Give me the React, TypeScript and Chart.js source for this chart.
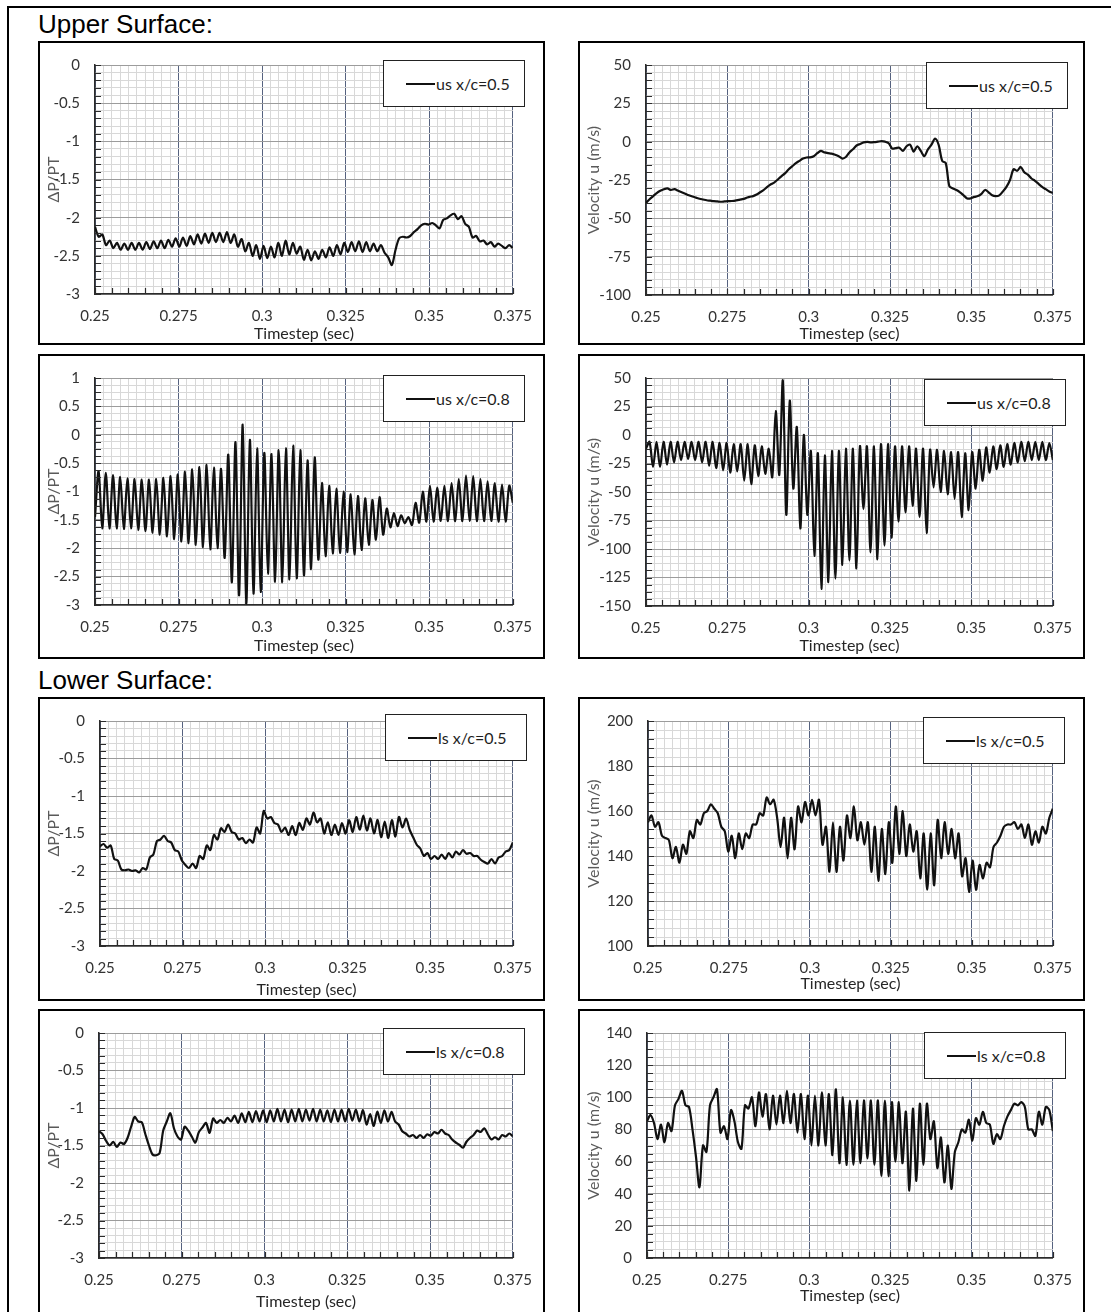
import React, { useEffect, useRef } from "react";
import { Chart, registerables } from "chart.js";

Chart.register(...registerables);

// ---- time axis ----
const T_START = 0.25;
const T_END = 0.375;
const X_MAJOR = 0.025;
const X_MINOR = 0.0025;
const X_TICK_MARK = 0.005;
const X_TITLE = "Timestep (sec)";
const Y_TITLE_P = "ΔP/PT";
const Y_TITLE_U = "Velocity u (m/s)";
const SECTION_TITLES = ["Upper Surface:", "Lower Surface:"];
const LEGENDS = ["us x/c=0.5", "us x/c=0.5", "us x/c=0.8", "us x/c=0.8", "ls x/c=0.5", "ls x/c=0.5", "ls x/c=0.8", "ls x/c=0.8"];

// ---- series values (uniformly sampled between T_START and T_END) ----
const usP05 = [
  -2.12, -2.25, -2.22, -2.36, -2.3, -2.4, -2.33, -2.42, -2.34, -2.42,
  -2.33, -2.42, -2.33, -2.42, -2.32, -2.41, -2.31, -2.4, -2.3, -2.4,
  -2.29, -2.38, -2.27, -2.38, -2.26, -2.37, -2.24, -2.35, -2.22, -2.34,
  -2.21, -2.33, -2.2, -2.32, -2.2, -2.32, -2.19, -2.33, -2.22, -2.38,
  -2.28, -2.44, -2.33, -2.5, -2.36, -2.54, -2.37, -2.53, -2.38, -2.52,
  -2.33, -2.5, -2.3, -2.48, -2.33, -2.47, -2.38, -2.55, -2.42, -2.56,
  -2.44, -2.54, -2.42, -2.52, -2.39, -2.5, -2.36, -2.48, -2.33, -2.45,
  -2.32, -2.44, -2.31, -2.45, -2.32, -2.44, -2.34, -2.44, -2.36, -2.46,
  -2.52, -2.62, -2.42, -2.27, -2.25, -2.26, -2.24, -2.19, -2.15, -2.1,
  -2.08, -2.09, -2.07, -2.1, -2.14, -2.03, -2.01, -1.97, -1.95, -2.02,
  -1.98, -2.08, -2.12, -2.26, -2.24, -2.31, -2.3, -2.35, -2.32, -2.38,
  -2.34, -2.37, -2.4, -2.36, -2.4,
];

const usU05 = [
  -40, -37.5, -35.5, -33.5, -32, -31, -30.5, -31.5, -31, -32,
  -33, -34, -35, -35.8, -36.5, -37.2, -37.7, -38.2, -38.5, -38.8,
  -39, -39.2, -39, -38.8, -38.7, -38.5, -38, -37.5, -36.8, -36,
  -35.5, -34.5, -33, -31.5, -29.5, -27.8, -26.5, -24.5, -22.5, -20.5,
  -18, -16, -14, -12.5, -11, -10.3, -10.2, -9.5, -7.5, -6,
  -7, -7.5, -7.8, -8.5, -9.5, -11, -10, -7, -5, -2.5,
  -1.5, -0.5, -0.2, -0.5, -0.3, 0, 0.3, 0, -1, -4.5,
  -4.2, -4, -6, -3, -2, -6.5, -3, -6, -9.5, -5,
  -2, 2, -2, -12.5, -14, -29, -30.5, -31.5, -33, -35,
  -37, -37, -36, -35.5, -34, -31.5, -33, -35, -35.5, -35,
  -32.5, -29.5, -25, -18, -19, -16.5, -20, -21.5, -24, -25.5,
  -27.5, -29.5, -31, -32.5, -33.5,
];

const usP08 = [
  -1.45, -0.64, -1.65, -0.67, -1.65, -0.71, -1.65, -0.74, -1.66, -0.77,
  -1.65, -0.78, -1.68, -0.79, -1.7, -0.79, -1.73, -0.78, -1.76, -0.76,
  -1.79, -0.73, -1.84, -0.7, -1.88, -0.65, -1.91, -0.61, -1.94, -0.57,
  -1.98, -0.53, -2.02, -0.58, -2.0, -0.6, -2.17, -0.35, -2.6, -0.13,
  -2.83, 0.18, -2.97, -0.09, -2.8, -0.24, -2.77, -0.32, -2.45, -0.34,
  -2.59, -0.27, -2.6, -0.24, -2.55, -0.19, -2.53, -0.27, -2.48, -0.45,
  -2.37, -0.4, -2.2, -0.85, -2.14, -0.9, -2.09, -0.95, -2.08, -1.0,
  -2.07, -1.05, -2.11, -1.08, -2.03, -1.12, -1.94, -1.15, -1.85, -1.1,
  -1.76, -1.3, -1.63, -1.38, -1.61, -1.42, -1.56, -1.45, -1.59, -1.2,
  -1.55, -1.0, -1.53, -0.9, -1.53, -0.93, -1.52, -0.9, -1.52, -0.85,
  -1.52, -0.78, -1.52, -0.72, -1.52, -0.73, -1.52, -0.78, -1.52, -0.82,
  -1.52, -0.85, -1.53, -0.88, -1.53, -0.9, -1.2,
];

const usU08 = [
  -12, -6, -28, -6, -28, -6, -26, -6, -24, -6,
  -22, -6, -21, -6, -22, -6, -24, -6, -27, -6,
  -29, -7, -31, -7, -33, -8, -32, -8, -40, -8,
  -43, -9, -36, -10, -34, -12, -37, 21, -35, 48,
  -70, 30, -47, 7, -82, 0, -70, -14, -106, -16,
  -135, -18, -129, -14, -126, -14, -114, -12, -110, -12,
  -117, -10, -65, -10, -103, -10, -109, -8, -97, -8,
  -90, -10, -76, -10, -68, -10, -62, -12, -72, -12,
  -86, -13, -46, -13, -50, -14, -52, -15, -56, -15,
  -72, -16, -66, -15, -47, -13, -40, -11, -33, -10,
  -30, -9, -28, -8, -26, -7, -24, -6, -23, -6,
  -22, -6, -22, -6, -22, -7, -22,
];

const lsP05 = [
  -1.67, -1.64, -1.69, -1.66, -1.84, -1.86, -1.98, -1.99, -1.98, -2.0,
  -1.99, -2.02, -1.96, -1.98, -1.82, -1.78, -1.6, -1.58, -1.53, -1.6,
  -1.62, -1.72, -1.74, -1.86, -1.92, -1.96, -1.9, -1.96, -1.8, -1.84,
  -1.66, -1.72, -1.52, -1.58, -1.43, -1.48, -1.38, -1.48, -1.5, -1.58,
  -1.56, -1.63, -1.58, -1.62, -1.42, -1.5, -1.2, -1.3, -1.28, -1.36,
  -1.38, -1.48, -1.42, -1.52, -1.4, -1.52, -1.36, -1.45, -1.3, -1.38,
  -1.22, -1.35, -1.3, -1.5, -1.35, -1.52, -1.38, -1.52, -1.36, -1.5,
  -1.32, -1.48, -1.28, -1.45, -1.26, -1.46, -1.3, -1.5, -1.32, -1.55,
  -1.34, -1.56, -1.32, -1.54, -1.28, -1.42, -1.3, -1.45, -1.55, -1.65,
  -1.7, -1.8, -1.76, -1.84, -1.8, -1.84, -1.78, -1.84, -1.76, -1.82,
  -1.74, -1.78, -1.72, -1.77, -1.76, -1.8, -1.8, -1.85, -1.88, -1.9,
  -1.84, -1.9, -1.82, -1.8, -1.74, -1.72, -1.62,
];

const lsU05 = [
  155, 158, 153, 155, 149, 148, 147, 139, 144, 137,
  145, 141, 151, 148, 156, 154, 159, 160, 163, 161,
  159, 153, 151, 142, 149, 139, 150, 143, 150, 148,
  154, 154, 159, 158, 166, 163, 165, 157, 144, 157,
  139, 157, 143, 162, 155, 164, 158, 165, 158, 165,
  145, 153, 133, 155, 133, 153, 138, 158, 148, 162,
  147, 155, 145, 155, 133, 153, 129, 152, 132, 155,
  137, 162, 141, 160, 140, 154, 142, 151, 130, 150,
  125, 150, 127, 156, 139, 155, 141, 152, 139, 150,
  131, 139, 124, 138, 125, 136, 130, 137, 135, 144,
  146, 149, 153, 154, 154, 155, 152, 154, 148, 154,
  145, 151, 146, 153, 150, 157, 161,
];

const lsP08 = [
  -1.31, -1.35, -1.44, -1.5, -1.45, -1.52, -1.46, -1.48, -1.4, -1.25,
  -1.12, -1.18, -1.19, -1.35, -1.5, -1.62, -1.63, -1.6, -1.3, -1.18,
  -1.07, -1.27, -1.38, -1.42, -1.25, -1.3, -1.38, -1.46, -1.32, -1.26,
  -1.2, -1.33, -1.14, -1.2, -1.16, -1.2, -1.13, -1.18, -1.1, -1.2,
  -1.07, -1.19, -1.05, -1.19, -1.04, -1.18, -1.03, -1.19, -1.03, -1.18,
  -1.01, -1.18, -1.02, -1.19, -1.02, -1.18, -1.01, -1.18, -1.02, -1.17,
  -1.01, -1.18, -1.02, -1.18, -1.03, -1.19, -1.02, -1.18, -1.02, -1.18,
  -1.01, -1.17, -1.02, -1.18, -1.03, -1.22, -1.08, -1.24, -1.05, -1.2,
  -1.03, -1.18, -1.05, -1.18, -1.22, -1.31, -1.34, -1.38, -1.36, -1.4,
  -1.36, -1.4, -1.35, -1.37, -1.32, -1.34, -1.29, -1.34, -1.36, -1.42,
  -1.46, -1.49, -1.53, -1.45, -1.4, -1.36, -1.3, -1.32, -1.27, -1.35,
  -1.42, -1.39, -1.42, -1.36, -1.38, -1.34, -1.38,
];

const lsU08 = [
  85, 89, 84, 74, 83, 72, 84, 79, 95, 99,
  104, 95, 94, 80, 63, 44, 70, 66, 95, 100,
  105, 78, 82, 74, 92, 85, 72, 68, 95, 93,
  100, 82, 103, 88, 102, 80, 101, 83, 101, 84,
  104, 84, 102, 78, 102, 74, 101, 70, 101, 70,
  103, 70, 102, 64, 105, 59, 100, 58, 98, 58,
  98, 59, 98, 62, 98, 58, 98, 51, 98, 51,
  97, 60, 97, 59, 91, 42, 93, 48, 96, 58,
  96, 74, 85, 56, 75, 47, 70, 43, 66, 72,
  80, 78, 86, 73, 87, 83, 91, 84, 83, 71,
  77, 74, 82, 88, 92, 96, 95, 97, 94, 80,
  80, 76, 91, 83, 94, 92, 79,
];

// ---- y-axis ranges: [min, max, major step, minor step] ----
const Y_P_UPPER_05 = [-3, 0, 0.5, 0.1];
const Y_U_UPPER_05 = [-100, 50, 25, 5];
const Y_P_UPPER_08 = [-3, 1, 0.5, 0.125];
const Y_U_UPPER_08 = [-150, 50, 25, 6.25];
const Y_P_LOWER = [-3, 0, 0.5, 0.1];
const Y_U_LOWER_05 = [100, 200, 20, 4];
const Y_U_LOWER_08 = [0, 140, 20, 5];

const FONT = "Lato, 'DejaVu Sans', sans-serif";

type Rect = { l: number; t: number; r: number; b: number };
type PanelDef = {
  values: number[];
  legend: string;
  yTitle: string;
  yAxis: number[];
  box: Rect;
  plot: Rect;
  xTitleGap: number;
};

const PANELS: PanelDef[] = [
  { values: usP05, legend: LEGENDS[0], yTitle: Y_TITLE_P, yAxis: Y_P_UPPER_05, box: { l: 38, t: 41, r: 545, b: 345 }, plot: { l: 95, t: 59, r: 516, b: 294 }, xTitleGap: 2 },
  { values: usU05, legend: LEGENDS[1], yTitle: Y_TITLE_U, yAxis: Y_U_UPPER_05, box: { l: 578, t: 41, r: 1085, b: 345 }, plot: { l: 646, t: 61, r: 1059, b: 295 }, xTitleGap: 2 },
  { values: usP08, legend: LEGENDS[2], yTitle: Y_TITLE_P, yAxis: Y_P_UPPER_08, box: { l: 38, t: 354, r: 545, b: 659 }, plot: { l: 95, t: 374, r: 516, b: 605 }, xTitleGap: 4 },
  { values: usU08, legend: LEGENDS[3], yTitle: Y_TITLE_U, yAxis: Y_U_UPPER_08, box: { l: 578, t: 354, r: 1085, b: 659 }, plot: { l: 646, t: 378, r: 1057, b: 606 }, xTitleGap: 4 },
  { values: lsP05, legend: LEGENDS[4], yTitle: Y_TITLE_P, yAxis: Y_P_LOWER, box: { l: 38, t: 697, r: 545, b: 1001 }, plot: { l: 100, t: 713, r: 518, b: 946 }, xTitleGap: 2 },
  { values: lsU05, legend: LEGENDS[5], yTitle: Y_TITLE_U, yAxis: Y_U_LOWER_05, box: { l: 578, t: 697, r: 1085, b: 1001 }, plot: { l: 648, t: 716, r: 1056, b: 946 }, xTitleGap: 8 },
  { values: lsP08, legend: LEGENDS[6], yTitle: Y_TITLE_P, yAxis: Y_P_LOWER, box: { l: 38, t: 1009, r: 545, b: 1314 }, plot: { l: 99, t: 1027, r: 516, b: 1258 }, xTitleGap: 3 },
  { values: lsU08, legend: LEGENDS[7], yTitle: Y_TITLE_U, yAxis: Y_U_LOWER_08, box: { l: 578, t: 1009, r: 1085, b: 1314 }, plot: { l: 647, t: 1031, r: 1057, b: 1258 }, xTitleGap: 9 },
];

const isMultiple = (v: number, step: number) => Math.abs(v / step - Math.round(v / step)) < 1e-6;
const fmt = (v: number) => String(parseFloat(v.toFixed(4)));

// short tick marks drawn inside the plot along the left and bottom axes
const innerTicks = {
  id: "innerTicks",
  afterDraw(chart: any, _args: any, opts: any) {
    const { ctx, chartArea, scales } = chart;
    const xs = scales.x;
    const ys = scales.y;
    ctx.save();
    ctx.strokeStyle = "#2b2b2b";
    ctx.lineWidth = 1.2;
    ctx.beginPath();
    const nx = Math.round((T_END - T_START) / opts.xStep);
    for (let k = 0; k <= nx; k++) {
      const px = Math.round(xs.getPixelForValue(T_START + k * opts.xStep)) + 0.5;
      ctx.moveTo(px, chartArea.bottom);
      ctx.lineTo(px, chartArea.bottom - 6);
    }
    const ny = Math.round((opts.yMax - opts.yMin) / opts.yStep);
    for (let k = 0; k <= ny; k++) {
      const py = Math.round(ys.getPixelForValue(opts.yMin + k * opts.yStep)) + 0.5;
      ctx.moveTo(chartArea.left, py);
      ctx.lineTo(chartArea.left + 6, py);
    }
    ctx.stroke();
    ctx.restore();
  },
};

function PanelChart({ p }: { p: PanelDef }) {
  const ref = useRef<HTMLCanvasElement | null>(null);
  const W = p.box.r - p.box.l;
  const H = p.box.b - p.box.t;

  useEffect(() => {
    const n = p.values.length;
    const pts = p.values.map((v, i) => ({ x: T_START + (i * (T_END - T_START)) / (n - 1), y: v }));
    const [yMin, yMax, yMajor, yMinor] = p.yAxis;
    const chart = new Chart(ref.current as HTMLCanvasElement, {
      type: "line",
      data: {
        datasets: [
          {
            data: pts,
            borderColor: "#111111",
            borderWidth: 2.2,
            pointRadius: 0,
            tension: 0.3,
            fill: false,
          },
        ],
      },
      plugins: [innerTicks],
      options: {
        animation: false,
        responsive: false,
        maintainAspectRatio: false,
        events: [],
        layout: {
          padding: { left: 0, top: p.plot.t - p.box.t, right: p.box.r - p.plot.r, bottom: 0 },
        },
        plugins: {
          legend: { display: false },
          tooltip: { enabled: false },
          innerTicks: { xStep: X_TICK_MARK, yMin, yMax, yStep: yMinor },
        },
        scales: {
          x: {
            type: "linear",
            min: T_START,
            max: T_END,
            afterFit: (s: any) => {
              s.height = p.box.b - p.plot.b;
            },
            ticks: {
              stepSize: X_MINOR,
              autoSkip: false,
              maxRotation: 0,
              minRotation: 0,
              padding: 13,
              color: "#333333",
              font: { family: FONT, size: 15 },
              callback: (v: any) => (isMultiple(Number(v), X_MAJOR) ? fmt(Number(v)) : ""),
            },
            grid: {
              drawTicks: false,
              color: (c: any) => (c.tick && isMultiple(c.tick.value, X_MAJOR) ? "#56627f" : "#d8d8d8"),
              lineWidth: 1,
            },
            border: { display: true, color: "#2b2b2b", width: 1.5 },
            title: {
              display: true,
              text: X_TITLE,
              color: "#262626",
              font: { family: FONT, size: 16 },
              padding: { top: 0, bottom: p.xTitleGap },
            },
          },
          y: {
            type: "linear",
            min: yMin,
            max: yMax,
            afterFit: (s: any) => {
              s.width = p.plot.l - p.box.l;
            },
            ticks: {
              stepSize: yMinor,
              autoSkip: false,
              padding: 15,
              color: "#333333",
              font: { family: FONT, size: 15 },
              callback: (v: any) => (isMultiple(Number(v), yMajor) ? fmt(Number(v)) : ""),
            },
            grid: {
              drawTicks: false,
              z: -1,
              color: (c: any) => (c.tick && isMultiple(c.tick.value, yMajor) ? "#9c9c9c" : "#d8d8d8"),
              lineWidth: 1,
            },
            border: { display: true, color: "#2b2b2b", width: 1.5 },
            title: {
              display: true,
              text: p.yTitle,
              color: "#5a5a5a",
              font: { family: FONT, size: 16 },
              padding: { top: 6, bottom: 0 },
            },
          },
        },
      },
    } as any);
    return () => chart.destroy();
  }, []);

  const legendLeft = p.plot.r - 133 - p.box.l;
  const legendTop = p.plot.t + 1 - p.box.t;

  return (
    <div style={{ position: "absolute", left: p.box.l, top: p.box.t, width: W, height: H }}>
      <canvas ref={ref} width={W} height={H} style={{ position: "absolute", left: 0, top: 0, width: W, height: H }} />
      <div
        style={{
          position: "absolute",
          left: legendLeft,
          top: legendTop,
          width: 142,
          height: 47,
          boxSizing: "border-box",
          border: "1.5px solid #222",
          background: "#fff",
          display: "flex",
          alignItems: "center",
          paddingLeft: 22,
        }}
      >
        <div style={{ width: 29, height: 2, background: "#111" }} />
        <span style={{ marginLeft: 1, fontFamily: FONT, fontSize: 16, color: "#1e1e1e", whiteSpace: "nowrap" }}>{p.legend}</span>
      </div>
      <div
        style={{
          position: "absolute",
          left: 0,
          top: 0,
          width: W,
          height: H,
          boxSizing: "border-box",
          border: "2px solid #000",
          pointerEvents: "none",
        }}
      />
    </div>
  );
}

export default function App() {
  return (
    <div
      style={{
        position: "absolute",
        left: 0,
        top: 0,
        width: 1111,
        height: 1312,
        overflow: "hidden",
        background: "#fff",
      }}
    >
      <div
        style={{
          position: "absolute",
          left: 7,
          top: 6,
          width: 1115,
          height: 1320,
          boxSizing: "border-box",
          border: "2px solid #000",
        }}
      />
      <div style={{ position: "absolute", left: 38, top: 11, fontFamily: "'Liberation Sans', Arial, sans-serif", fontSize: 26, lineHeight: "26px", color: "#000", whiteSpace: "nowrap" }}>
        {SECTION_TITLES[0]}
      </div>
      <div style={{ position: "absolute", left: 38, top: 667, fontFamily: "'Liberation Sans', Arial, sans-serif", fontSize: 26, lineHeight: "26px", color: "#000", whiteSpace: "nowrap" }}>
        {SECTION_TITLES[1]}
      </div>
      {PANELS.map((p, i) => (
        <PanelChart key={i} p={p} />
      ))}
    </div>
  );
}
